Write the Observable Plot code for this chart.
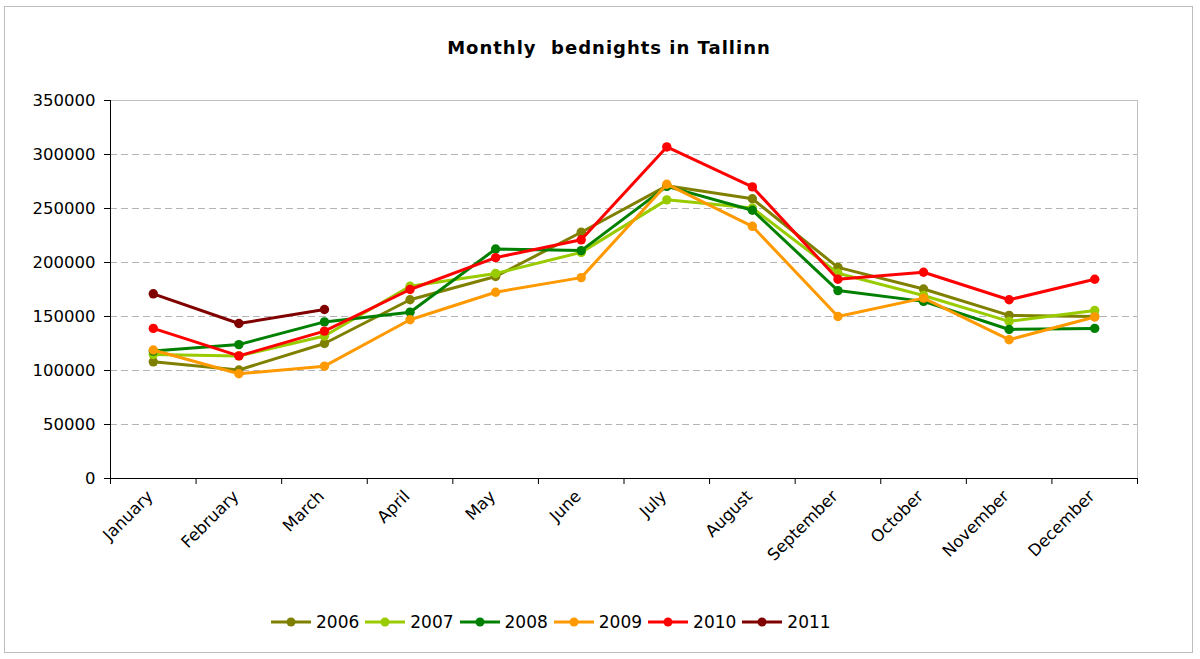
<!DOCTYPE html>
<html>
<head>
<meta charset="utf-8">
<script src="https://cdn.jsdelivr.net/npm/d3@7"></script>
<script src="https://cdn.jsdelivr.net/npm/@observablehq/plot@0.6"></script>
<style>
  body { margin: 0; background: #fff; font-family: "DejaVu Sans", Verdana, sans-serif; }
  #page { position: relative; width: 1200px; height: 659px; overflow: hidden; }
  #border { position: absolute; left: 4px; top: 6px; width: 1189px; height: 647px; border: 1px solid #bdbdbd; box-sizing: border-box; }
  #title { position: absolute; left: 0; top: 37px; width: 1218px; text-align: center; font-weight: bold; font-size: 18px; letter-spacing: 1px; color: #000; }
  #chart { position: absolute; left: 0; top: 80px; }
  #legend { position: absolute; left: 271px; top: 612px; display: flex; align-items: center; font-size: 17px; color: #000; }
  .item { display: flex; align-items: center; margin-right: 6px; }
  .item svg { margin-right: 5px; }
</style>
</head>
<body>
<div id="page">
  <div id="border"></div>
  <div id="title">Monthly&nbsp; bednights in Tallinn</div>
  <div id="chart"></div>
  <div id="legend"></div>
</div>
<script>
const months = ["January","February","March","April","May","June","July","August","September","October","November","December"];
const years = ["2006","2007","2008","2009","2010","2011"];
const colors = ["#808000","#99cc00","#008000","#ff9900","#ff0000","#800000"];
const v2006 = [108000, 100500, 125000, 165500, 187000, 228000, 271000, 259000, 195500, 175500, 151000, 150000];
const v2007 = [114800, 113500, 132000, 178000, 189800, 209400, 258000, 250500, 190000, 169500, 145500, 155500];
const v2008 = [118000, 124000, 145000, 154000, 212500, 211000, 270500, 248400, 174000, 164000, 138000, 139000];
const v2009 = [119000, 97000, 104000, 147000, 172500, 186000, 272500, 233500, 150000, 167000, 128500, 149500];
const v2010 = [139000, 113500, 136500, 175000, 204500, 221000, 307000, 270000, 184500, 191000, 165500, 184500];
const v2011 = [171000, 143500, 156500];
const yTicks = [0, 50000, 100000, 150000, 200000, 250000, 300000, 350000];

const series = [v2006, v2007, v2008, v2009, v2010, v2011];
const rows = [];
series.forEach((vals, s) => vals.forEach((v, i) => rows.push({year: years[s], m: i, value: v})));

const boundaries = d3.range(months.length + 1).map(i => i - 0.5);

const seriesMarks = years.flatMap((yr, s) => {
  const d = rows.filter(r => r.year === yr);
  return [
    Plot.line(d, {x: "m", y: "value", stroke: colors[s], strokeWidth: 3}),
    Plot.dot(d, {x: "m", y: "value", r: 4.7, fill: colors[s], stroke: "none"})
  ];
});

const chart = Plot.plot({
  width: 1200,
  height: 530,
  marginTop: 20,
  marginBottom: 132,
  marginLeft: 110,
  marginRight: 63,
  style: {fontFamily: "DejaVu Sans, Verdana, sans-serif", fontSize: "16.5px", color: "#000", background: "transparent"},
  x: {domain: [-0.5, months.length - 0.5], label: null},
  y: {domain: [0, 350000], label: null},
  marks: [
    Plot.frame({stroke: "#c0c0c0"}),
    Plot.gridY(yTicks.filter(v => v > 0 && v < 350000), {stroke: "#b4b4b4", strokeOpacity: 1, strokeDasharray: "7,4"}),
    Plot.axisY(yTicks, {tickSize: 6, tickPadding: 9, tickFormat: d3.format("d"), stroke: "#000", strokeOpacity: 1, label: null}),
    Plot.axisX(boundaries, {tickSize: 6, tickFormat: () => "", stroke: "#000", strokeOpacity: 1, label: null}),
    Plot.axisX(d3.range(months.length), {tickSize: 0, tickPadding: 15, tickRotate: -45, dx: -3, tickFormat: i => months[i], label: null}),
    Plot.ruleX([-0.5], {stroke: "#000"}),
    Plot.ruleY([0], {stroke: "#000"}),
    ...seriesMarks
  ]
});
document.getElementById("chart").appendChild(chart);

const legend = document.getElementById("legend");
years.forEach((yr, s) => {
  const item = document.createElement("div");
  item.className = "item";
  item.innerHTML = `<svg width="40" height="14"><line x1="0" y1="7" x2="40" y2="7" stroke="${colors[s]}" stroke-width="3"/><circle cx="20" cy="7" r="4.5" fill="${colors[s]}"/></svg><span>${yr}</span>`;
  legend.appendChild(item);
});
</script>
</body>
</html>
